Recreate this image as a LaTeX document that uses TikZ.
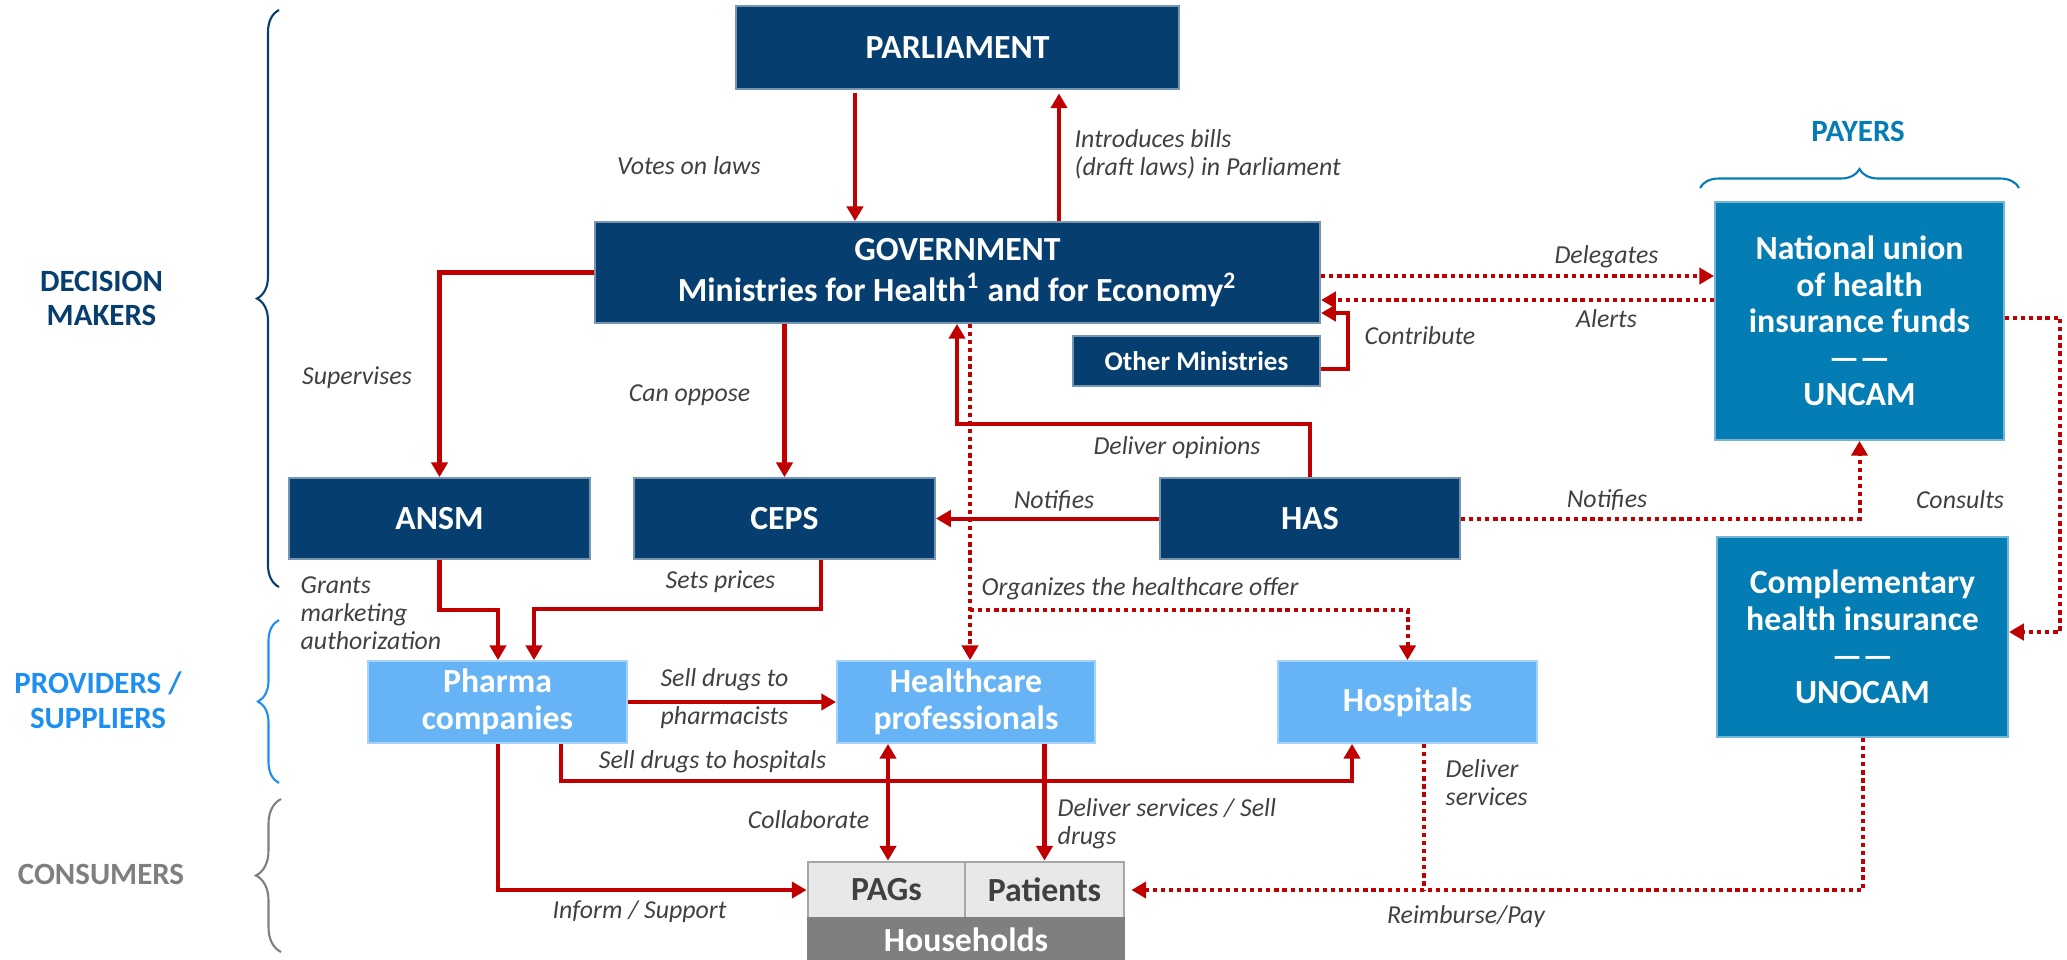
\documentclass[tikz,border=0pt]{standalone}
\usepackage{fontspec}
\setmainfont{Carlito}
\usetikzlibrary{arrows.meta,decorations.pathreplacing,calc}
\definecolor{navy}{HTML}{063E6F}
\definecolor{tealb}{HTML}{037DB3}
\definecolor{lblue}{HTML}{66B4F6}
\definecolor{darkred}{HTML}{C00000}
\definecolor{lbl}{HTML}{404040}
\definecolor{provb}{HTML}{1E8FF0}
\definecolor{consg}{HTML}{7F7F7F}
\tikzset{
 bfont/.style={font=\fontsize{9.6}{10.4}\selectfont\bfseries},
 navybox/.style={fill=navy, draw=navy!55!white, line width=0.5pt, text=white, bfont, align=center, inner sep=0pt},
 tealbox/.style={fill=tealb, draw=tealb!55!white, line width=0.5pt, text=white, bfont, align=center, inner sep=0pt},
 lbox/.style={fill=lblue, draw=lblue!60!white, line width=0.5pt, text=white, bfont, align=center, inner sep=0pt},
 gbox/.style={fill=gray!18, draw=gray!70, line width=0.8pt, text=lbl, bfont, inner sep=0pt},
 hhbox/.style={fill=consg, draw=consg, line width=0.5pt, text=white, bfont, inner sep=0pt},
 conn/.style={draw=darkred, line width=1.15pt, -{Triangle[length=4.2pt,width=4.6pt]}},
 conntwo/.style={draw=darkred, line width=1.15pt, {Triangle[length=4.2pt,width=4.6pt]}-{Triangle[length=4.2pt,width=4.6pt]}},
 dconn/.style={conn, dash pattern=on 1.2pt off 1.1pt},
 lab/.style={font=\fontsize{7.35}{8}\selectfont\itshape, text=lbl, inner sep=0pt},
 myside/.style={font=\fontsize{8.8}{9.6}\selectfont\bfseries, align=center, inner sep=0pt},
 mybrace/.style={decorate, decoration={brace, amplitude=#1}, line width=0.6pt},
}
\begin{document}
\begin{tikzpicture}[x=0.01cm,y=-0.01cm]
\useasboundingbox (0,0) rectangle (2067,959);

% boxes
\node[navybox, minimum width=4.43cm, minimum height=0.83cm] (parl) at (957.5,47.5) {PARLIAMENT};
\node[navybox, minimum width=7.25cm, minimum height=1.01cm, font=\fontsize{9.6}{11.7}\selectfont\bfseries] (gov) at (957.5,272.5) {GOVERNMENT\\Ministries for Health\textsuperscript{1} and for Economy\textsuperscript{2}};
\node[navybox, minimum width=2.47cm, minimum height=0.50cm, font=\fontsize{7.7}{8}\selectfont\bfseries] (om) at (1196.5,361) {Other Ministries};
\node[tealbox, minimum width=2.89cm, minimum height=2.38cm] (uncam) at (1859.5,321) {National union\\of health\\insurance funds\\——\\UNCAM};
\node[tealbox, minimum width=2.91cm, minimum height=2.00cm] (comp) at (1862.5,637) {Complementary\\health insurance\\——\\UNOCAM};
\node[navybox, minimum width=3.01cm, minimum height=0.81cm] (ansm) at (439.5,518.5) {ANSM};
\node[navybox, minimum width=3.01cm, minimum height=0.81cm] (ceps) at (784.5,518.5) {CEPS};
\node[navybox, minimum width=3.00cm, minimum height=0.81cm] (has) at (1310,518.5) {HAS};
\node[lbox, minimum width=2.59cm, minimum height=0.82cm] (pharma) at (497.5,702) {Pharma\\companies};
\node[lbox, minimum width=2.58cm, minimum height=0.82cm] (hcp) at (966,702) {Healthcare\\professionals};
\node[lbox, minimum width=2.59cm, minimum height=0.82cm] (hosp) at (1407.5,702) {Hospitals};
\node[gbox, minimum width=1.57cm, minimum height=0.56cm] (pags) at (886.5,890) {PAGs};
\node[gbox, minimum width=1.59cm, minimum height=0.56cm] (pat) at (1044.5,890) {Patients};
\node[hhbox, minimum width=3.16cm, minimum height=0.44cm] (hh) at (966,940) {Households};

% side labels and braces
\node[myside, text=navy] (dm) at (101.5,298.5) {DECISION\\MAKERS};
\node[myside, text=provb, font=\fontsize{8.8}{9.9}\selectfont\bfseries] (ps) at (98,700) {PROVIDERS /\\SUPPLIERS};
\node[myside, text=consg] (cons) at (101,874) {CONSUMERS};
\node[myside, text=tealb] (payers) at (1858,131) {PAYERS};
\draw[mybrace=0.22cm, navy] (279,587) -- (279,10);
\draw[mybrace=0.21cm, provb] (279,783) -- (279,620);
\draw[mybrace=0.25cm, consg] (281,952) -- (281,799);
\draw[mybrace=0.19cm, tealb] (1700,188) -- (2019,188);

% helper coordinates
\coordinate (xv) at (855,0);
\coordinate (xi) at (1059,0);
\coordinate (yd) at (0,276);
\coordinate (ya) at (0,300);
\coordinate (c1) at (1348,369);
\coordinate (c2) at (1348,313);
\coordinate (o1) at (957,424);
\coordinate (g1) at (970,610);
\coordinate (k1) at (2060,317.5);
\coordinate (k2) at (2060,632);
\coordinate (a1) at (498,610);
\coordinate (p1) at (821,609);
\coordinate (p2) at (534,609);
\coordinate (h1) at (561,781);
\coordinate (h2) at (1352,781);
\coordinate (i1) at (498,890);
\coordinate (cl) at (888,0);
\coordinate (d1) at (1424,890);

% connectors
\draw[conn, shorten <=1pt] (parl.south -| xv) -- (gov.north -| xv);
\draw[conn, shorten >=1pt] (gov.north -| xi) -- (parl.south -| xi);
\draw[conn] (gov.west) -| (ansm.north);
\draw[conn] (gov.south -| ceps.north) -- (ceps.north);
\draw[dconn] (gov.east |- yd) -- (uncam.west |- yd);
\draw[dconn] (uncam.west |- ya) -- (gov.east |- ya);
\draw[conn] (om.east |- c1) -- (c1) -- (c2) -- (gov.east |- c2);
\draw[conn] (has.north) |- (o1) -- (gov.south -| o1);
\draw[dconn] (gov.south -| g1) -- (hcp.north -| g1);
\draw[dconn] (g1) -| (hosp.north);
\draw[conn] (has.west) -- (ceps.east);
\draw[dconn] (has.east) -| (uncam.south);
\draw[dconn] (uncam.east |- k1) -- (k1) -- (k2) -- (comp.east |- k2);
\draw[conn] (ansm.south) |- (a1) -- (pharma.north -| a1);
\draw[conn] (ceps.south -| p1) -- (p1) -- (p2) -- (pharma.north -| p2);
\draw[conn] (pharma.east) -- (hcp.west);
\draw[conn] (pharma.south -| h1) -- (h1) -- (h2) -- (hosp.south -| h2);
\draw[conn] (pharma.south -| i1) -- (i1) -- (pags.west);
\draw[conntwo] (hcp.south -| cl) -- (pags.north -| cl);
\draw[conn] (hcp.south -| pat.north) -- (pat.north);
\draw[dconn, shorten >=1.7pt] (comp.south) |- (pat.east);
\draw[dconn, -] (hosp.south -| d1) -- (d1);

% labels
\node[lab] (lvotes) at (689,166) {Votes on laws};
\node[lab, anchor=west, align=left] (lintro) at (1074,154) {Introduces bills\\(draft laws) in Parliament};
\node[lab] (lsup) at (357,378) {Supervises};
\node[lab] (lopp) at (689.5,395) {Can oppose};
\node[lab] (ldel) at (1606.5,257) {Delegates};
\node[lab] (lal) at (1606.5,319) {Alerts};
\node[lab, anchor=west] (lcon) at (1364,336) {Contribute};
\node[lab] (lop) at (1177,448) {Deliver opinions};
\node[lab] (lnot1) at (1054,501) {Notifies};
\node[lab] (lnot2) at (1607,500) {Notifies};
\node[lab] (lcons) at (1960,500) {Consults};
\node[lab, anchor=west] (lorg) at (981,589) {Organizes the healthcare offer};
\node[lab, anchor=west, align=left] (lgr) at (300,613) {Grants\\marketing\\authorization};
\node[lab] (lsp) at (720.5,582) {Sets prices};
\node[lab, align=center, font=\fontsize{7.35}{10.8}\selectfont\itshape] (lsell) at (724.5,699) {Sell drugs to\\pharmacists};
\node[lab] (lsh) at (712.5,762) {Sell drugs to hospitals};
\node[lab] (lcol) at (808.5,820) {Collaborate};
\node[lab, anchor=west, align=left] (ldsv) at (1057,824) {Deliver services / Sell\\drugs};
\node[lab] (linf) at (639.5,912) {Inform / Support};
\node[lab, anchor=west, align=left] (ldsh) at (1445,782.5) {Deliver\\services};
\node[lab] (lre) at (1466,917) {Reimburse/Pay};
\end{tikzpicture}
\end{document}
